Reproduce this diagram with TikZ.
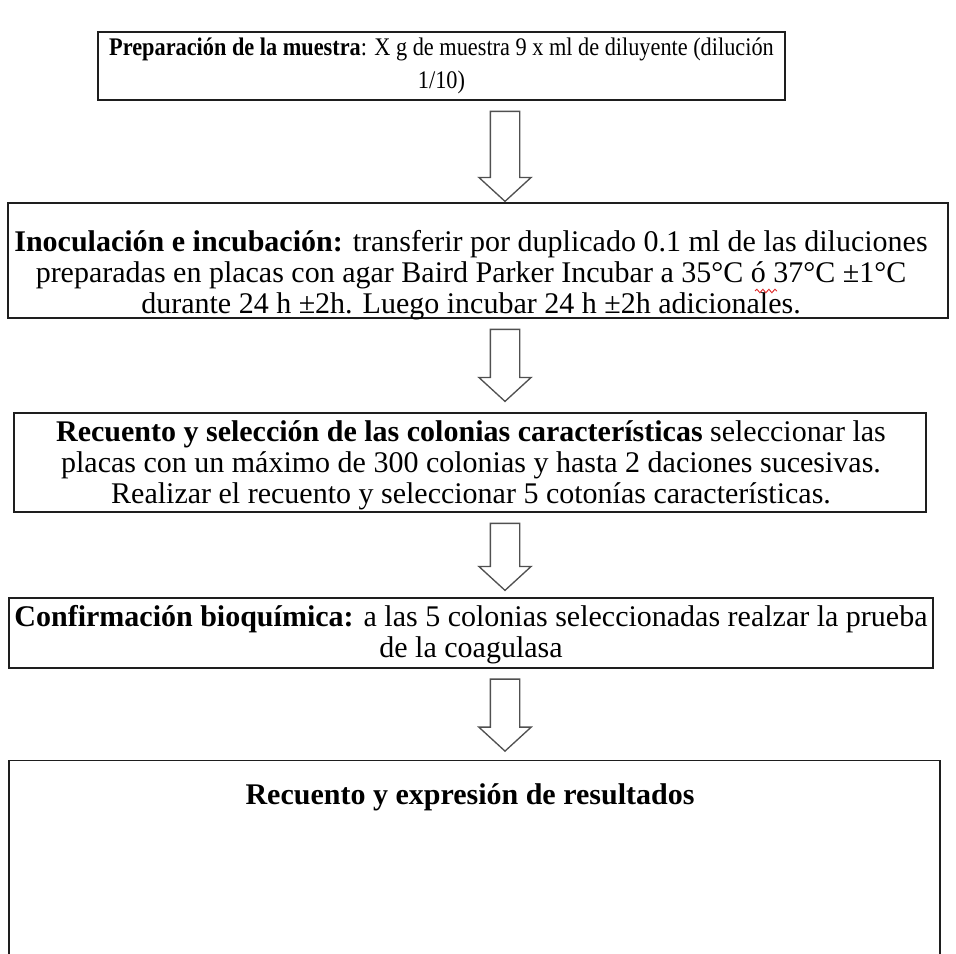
\documentclass[tikz,border=0pt]{standalone}
\usepackage{fontspec}
\setmainfont{Liberation Serif}
\newfontfamily\prepfont[FakeStretch=0.88]{Liberation Serif}
\definecolor{boxline}{RGB}{30,30,30}
\definecolor{arrowline}{RGB}{80,80,80}
\definecolor{spellred}{RGB}{220,40,40}
\usetikzlibrary{shapes.arrows,decorations.pathmorphing,positioning}
\tikzset{
  stepbox/.style={draw=boxline, line width=1.1pt, inner sep=0pt},
  steptext/.style={inner sep=0pt, align=center, font=\fontsize{22.5}{23.25}\selectfont},
  hollowarrow/.style={single arrow, draw=arrowline, line width=1pt, fill=white,
    shape border rotate=270, inner sep=10.5pt, minimum width=38.25pt,
    single arrow head extend=8.6pt, single arrow tip angle=95, anchor=tip}
}

\begin{document}
\begin{tikzpicture}[x=0.75pt, y=-0.75pt]
\useasboundingbox (0,0) rectangle (956,953);
\clip (0,0) rectangle (956,953);
\coordinate (axis) at (505,0);
% Boxes
\node[stepbox, minimum width=515.25pt, minimum height=51pt] (prep) at (441.5,66) {};
\node[stepbox, minimum width=705pt, minimum height=86.25pt] (inoc) at (478,260.5) {};
\node[stepbox, minimum width=684pt, minimum height=74.25pt] (recsel) at (470,462.5) {};
\node[stepbox, minimum width=693pt, minimum height=52.5pt] (conf) at (471,633) {};
\node[stepbox, minimum width=698.25pt, minimum height=187.5pt, anchor=north] (result) at (474.5,760) {};
% Texts
\node[steptext, font=\prepfont\fontsize{19}{24.75}\selectfont] (preptext) at (441.5,66)
  {\textbf{Preparación de la muestra}: X g de muestra 9 x ml de diluyente (dilución\\ 1/10)};
\node[steptext] (inoctext) at (471,275)
  {\textbf{Inoculación e incubación:} transferir por duplicado 0.1 ml de las diluciones\\
   preparadas en placas con agar Baird Parker Incubar a 35°C ó 37°C ±1°C\\
   durante 24 h ±2h. Luego incubar 24 h ±2h adicionales.};
\node[steptext] (recseltext) at (471,465)
  {\textbf{Recuento y selección de las colonias características} seleccionar las\\
   placas con un máximo de 300 colonias y hasta 2 daciones sucesivas.\\
   Realizar el recuento y seleccionar 5 cotonías características.};
\node[steptext] (conftext) at (471,635)
  {\textbf{Confirmación bioquímica:} a las 5 colonias seleccionadas realzar la prueba\\
   de la coagulasa};
\node[steptext] (resulttext) at (470,797)
  {\textbf{Recuento y expresión de resultados}};
% Spell check mark
\draw[spellred, line width=0.7pt, decorate, decoration={snake, amplitude=1.3pt, segment length=4.5pt}]
  (755,291) -- (777,291);
% Arrows
\node[hollowarrow, minimum height=67.5pt] (a1) at (inoc.north -| axis) {};
\node[hollowarrow, minimum height=54pt] (a2) at ([yshift=7.5pt]recsel.north -| axis) {};
\node[hollowarrow, minimum height=50.25pt] (a3) at ([yshift=4.5pt]conf.north -| axis) {};
\node[hollowarrow, minimum height=54pt] (a4) at ([yshift=6pt]result.north -| axis) {};
\end{tikzpicture}
\end{document}
